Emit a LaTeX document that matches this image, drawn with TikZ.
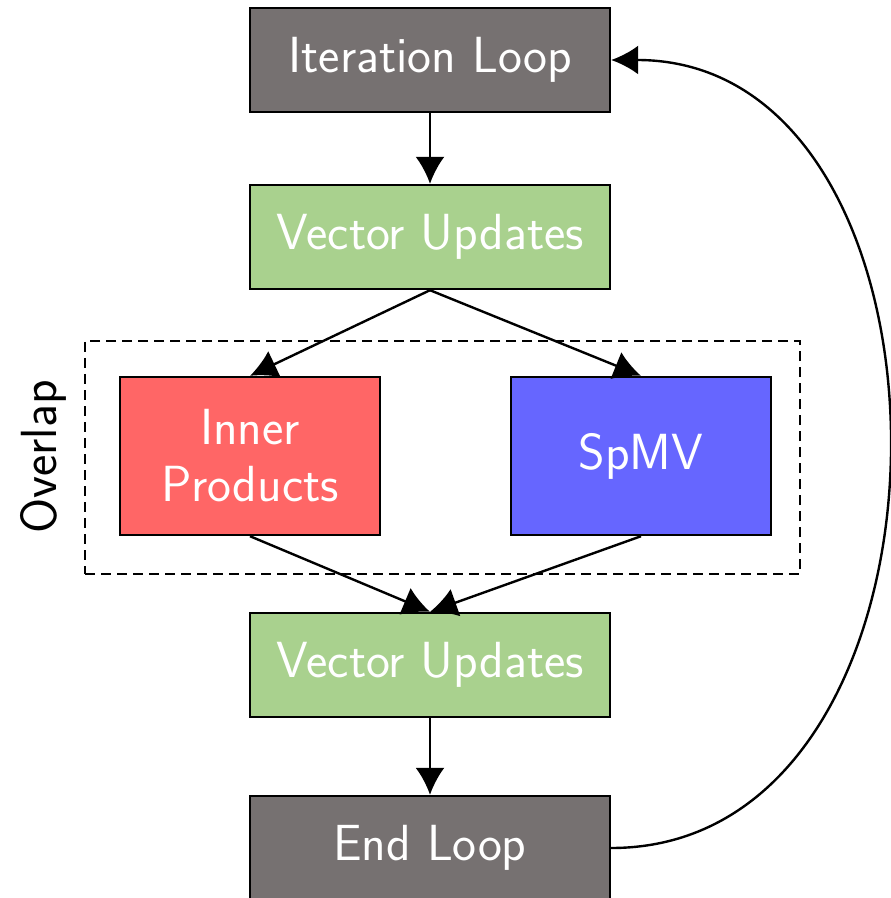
\documentclass[tikz,border=0pt]{standalone}
\usepackage{fontspec}
\usetikzlibrary{arrows.meta}

\definecolor{loopgray}{HTML}{767171}
\definecolor{updgreen}{HTML}{A9D18E}
\definecolor{ipred}{HTML}{FF6666}
\definecolor{spblue}{HTML}{6666FF}

\begin{document}
\begin{tikzpicture}[x=0.5pt, y=-0.5pt,
  font=\sffamily\fontsize{25.4}{28.5}\selectfont,
  stage/.style={draw=black, line width=1.2pt, text=white,
    minimum width=180pt, minimum height=52pt, inner sep=0pt, align=center},
  kernel/.style={stage, minimum width=130pt, minimum height=79pt},
  flow/.style={line width=1.2pt, -{Latex[length=13.5pt, width=14.5pt]}},
  groupbox/.style={draw=black, line width=1.2pt, dash pattern=on 5pt off 3pt,
    minimum width=357.5pt, minimum height=116.5pt, inner sep=0pt}]

\useasboundingbox (0,0) rectangle (890,898);

% overlapping region
\node[groupbox] (overlap) at (442.5,457.5) {};
\node[rotate=90] (overlaplabel) at (43,457) {Overlap};

% stages
\node[stage, fill=loopgray] (iter) at (430,60) {Iteration Loop};
\node[stage, fill=updgreen] (upd1) at (430,237) {Vector Updates};
\node[kernel, fill=ipred]   (inner) at (250,456) {Inner\\Products};
\node[kernel, fill=spblue]  (spmv) at (641,456) {SpMV};
\node[stage, fill=updgreen] (upd2) at (430,665) {Vector Updates};
\node[stage, fill=loopgray] (endloop) at (430,848) {End Loop};

% data flow
\draw[flow] (iter.south) -- (upd1.north);
\draw[flow] (upd1.south) -- (inner.north);
\draw[flow] (upd1.south) -- (spmv.north);
\draw[flow] (inner.south) -- (upd2.north);
\draw[flow] (spmv.south) -- (upd2.north);
\draw[flow] (upd2.south) -- (endloop.north);
\draw[flow] (endloop.east) to[out=0, in=0, looseness=1.2] (iter.east);

\end{tikzpicture}
\end{document}
